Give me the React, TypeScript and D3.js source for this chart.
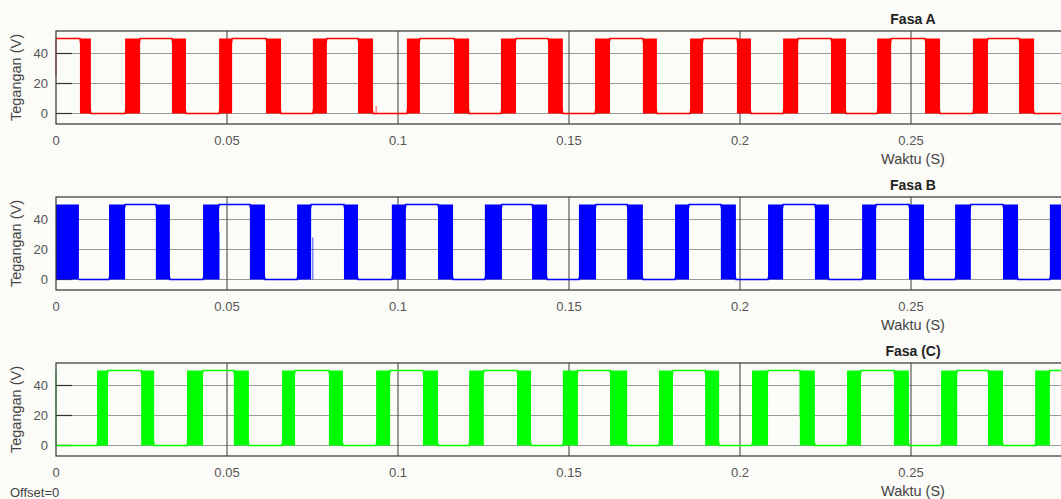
import React from 'react';
import * as d3 from 'd3';

// switching blocks [start, end] in seconds
const fasaA: [number, number][] = [
  [0.0070, 0.0102], [0.0202, 0.0246], [0.0339, 0.0380], [0.0477, 0.0515],
  [0.0614, 0.0658], [0.0751, 0.0792], [0.0883, 0.0927], [0.1026, 0.1064],
  [0.1164, 0.1208], [0.1301, 0.1345], [0.1439, 0.1482], [0.1576, 0.1620],
  [0.1716, 0.1757], [0.1854, 0.1892], [0.1991, 0.2032], [0.2126, 0.2170],
  [0.2266, 0.2310], [0.2401, 0.2442], [0.2541, 0.2585], [0.2681, 0.2725],
  [0.2816, 0.2860],
];
const fasaB: [number, number][] = [
  [0.0000, 0.0067], [0.0155, 0.0202], [0.0292, 0.0333], [0.0430, 0.0477],
  [0.0567, 0.0611], [0.0705, 0.0746], [0.0842, 0.0883], [0.0982, 0.1023],
  [0.1117, 0.1161], [0.1254, 0.1304], [0.1392, 0.1436], [0.1529, 0.1579],
  [0.1670, 0.1716], [0.1810, 0.1851], [0.1944, 0.1988], [0.2082, 0.2126],
  [0.2219, 0.2260], [0.2357, 0.2398], [0.2494, 0.2538], [0.2629, 0.2675],
  [0.2769, 0.2813], [0.2906, 0.2950],
];
const fasaC: [number, number][] = [
  [0.0120, 0.0152], [0.0249, 0.0287], [0.0383, 0.0430], [0.0520, 0.0564],
  [0.0661, 0.0699], [0.0798, 0.0839], [0.0936, 0.0977], [0.1073, 0.1117],
  [0.1208, 0.1251], [0.1348, 0.1389], [0.1482, 0.1526], [0.1620, 0.1670],
  [0.1763, 0.1804], [0.1898, 0.1939], [0.2035, 0.2082], [0.2175, 0.2219],
  [0.2313, 0.2354], [0.2450, 0.2494], [0.2588, 0.2635], [0.2725, 0.2769],
  [0.2863, 0.2906],
];

// level of the flat part before the first block
const startLevel = [50, 50, 0];
// stray partial edges [t, from V, to V]
const spikesA: [number, number, number][] = [[0, 25, 50], [0.0936, 0, 5], [0.1722, 0, 5], [0.2135, 34, 50]];
const spikesB: [number, number, number][] = [[0.0477, 0, 32], [0.0711, 0, 18], [0.0751, 0, 28], [0.1950, 29, 50]];
const spikesC: [number, number, number][] = [[0, 0, 50], [0.0526, 0, 35], [0.0801, 0, 11], [0.2175, 19, 50]];

const titles = ['Fasa A', 'Fasa B', 'Fasa (C)'];
const colors = ['#ff0000', '#0000ff', '#00ff00'];
const xTicks = [0, 0.05, 0.1, 0.15, 0.2, 0.25];
const yTicks = [0, 20, 40];
const HIGH = 50;

const W = 1061;
const H = 499;
const left = 56;
const right = 1082;
const panelTops = [31, 197, 363];
const panelH = 93;
const font = '"Liberation Sans", Arial, sans-serif';

const x = d3.scaleLinear().domain([0, 0.3]).range([left, right]);

function Panel({ i, blocks, spikes }: { i: number; blocks: [number, number][]; spikes: [number, number, number][] }) {
  const top = panelTops[i];
  const bottom = top + panelH;
  const y = d3.scaleLinear().domain([-7, 55]).range([bottom, top]);
  const color = colors[i];

  // flat segments between blocks, alternating level
  const pts: [number, number][] = [];
  let level = startLevel[i];
  let prev = 0;
  blocks.forEach(([s, e]) => {
    if (s > prev) {
      pts.push([prev, level], [s, level]);
    }
    level = level === HIGH ? 0 : HIGH;
    prev = e;
  });
  pts.push([prev, level], [0.3, level]);
  const line = d3.line<[number, number]>().x(d => x(d[0])).y(d => y(d[1]));

  return (
    <g>
      {yTicks.map(v => (
        <line key={'h' + v} x1={left} x2={right} y1={y(v)} y2={y(v)} stroke="#9a9a9a" strokeWidth={1} />
      ))}
      {xTicks.slice(1).map(v => (
        <line key={'v' + v} x1={x(v)} x2={x(v)} y1={top} y2={bottom} stroke="#3a3a3a" strokeWidth={1} />
      ))}
      {yTicks.map(v => (
        <line key={'t' + v} x1={left} x2={left + 16} y1={y(v)} y2={y(v)} stroke="#333" strokeWidth={1.2} />
      ))}
      <path d={line(pts) || ''} fill="none" stroke={color} strokeWidth={1.5} />
      {blocks.map(([s, e], k) => (
        <rect key={k} x={x(s)} y={y(HIGH)} width={x(e) - x(s)} height={y(0) - y(HIGH)} fill={color} />
      ))}
      {spikes.map(([t, a, b], k) => (
        <line key={'s' + k} x1={x(t)} x2={x(t)} y1={y(a)} y2={y(b)} stroke={color} strokeWidth={1} opacity={0.7} />
      ))}
      <rect x={left} y={top} width={right - left} height={panelH} fill="none" stroke="#333" strokeWidth={1.2} />
      {yTicks.map(v => (
        <text key={'yl' + v} x={48} y={y(v)} dy="0.35em" textAnchor="end" fontSize={13} fill="#555" fontFamily={font}>
          {v}
        </text>
      ))}
      {xTicks.map(v => (
        <text key={'xl' + v} x={x(v)} y={bottom + 21} textAnchor="middle" fontSize={13} fill="#555" fontFamily={font}>
          {v}
        </text>
      ))}
      <text
        transform={`translate(21,${top + panelH / 2}) rotate(-90)`}
        textAnchor="middle"
        fontSize={14.5}
        fill="#444"
        fontFamily={font}
      >
        Tegangan (V)
      </text>
      <text x={913} y={bottom + 40} textAnchor="middle" fontSize={14.5} fill="#444" fontFamily={font}>
        Waktu (S)
      </text>
      <text x={913} y={top - 7} textAnchor="middle" fontSize={14} fontWeight="bold" fill="#222" fontFamily={font}>
        {titles[i]}
      </text>
    </g>
  );
}

export default function App() {
  return (
    <svg width={W} height={H} style={{ position: 'absolute', left: 0, top: 0, background: '#fbfbf7' }}>
      <Panel i={0} blocks={fasaA} spikes={spikesA} />
      <Panel i={1} blocks={fasaB} spikes={spikesB} />
      <Panel i={2} blocks={fasaC} spikes={spikesC} />
      <text x={10} y={497} fontSize={13} fill="#444" fontFamily={font}>
        Offset=0
      </text>
    </svg>
  );
}
